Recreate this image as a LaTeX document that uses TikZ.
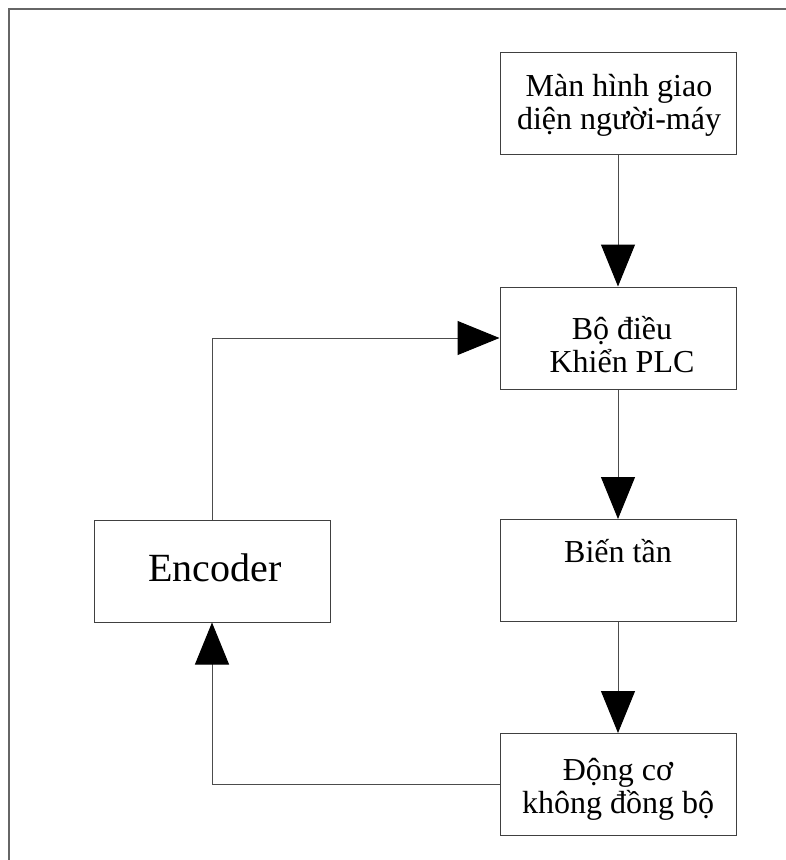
\documentclass[tikz,border=0pt]{standalone}
\usepackage{fontspec}
\setmainfont{Liberation Serif}
\usetikzlibrary{arrows.meta}
\tikzset{
  block/.style={draw=black!75, line width=1pt, rectangle, minimum width=236pt, minimum height=102pt, inner sep=0pt},
  lbl/.style={font=\fontsize{32}{33}\selectfont, align=center, inner sep=0pt, anchor=base},
  conn/.style={draw=black!70, line width=1pt, -{Triangle[length=42pt, width=34pt, black]}}
}
\begin{document}
\begin{tikzpicture}[x=1pt, y=-1pt]
  \useasboundingbox (0, 0) rectangle (786, 860);
  \draw[black!60, line width=2pt] (786, 9) -- (9, 9) -- (9, 860);

  \node[block] (hmi) at (618, 103) {};
  \node[lbl] (hmitext) at (619, 129) {Màn hình giao\\diện người-máy};

  \node[block] (plc) at (618, 338) {};
  \node[lbl] (plctext) at (622, 372) {Bộ điều\\Khiển PLC};

  \node[block] (inv) at (618, 570.5) {};
  \node[lbl] (invtext) at (618, 562) {Biến tần};

  \node[block] (motor) at (618, 784.5) {};
  \node[lbl] (motortext) at (618, 813) {Động cơ\\không đồng bộ};

  \node[block] (enc) at (212, 571) {};
  \node[lbl, font=\fontsize{40}{42}\selectfont] (enctext) at (215, 581) {Encoder};

  \draw[conn] (hmi) -- (plc);
  \draw[conn] (plc) -- (inv);
  \draw[conn] (inv) -- (motor);
  \draw[conn] (motor.west) -| (enc.south);
  \draw[conn] (enc.north) |- (plc.west);
\end{tikzpicture}
\end{document}
